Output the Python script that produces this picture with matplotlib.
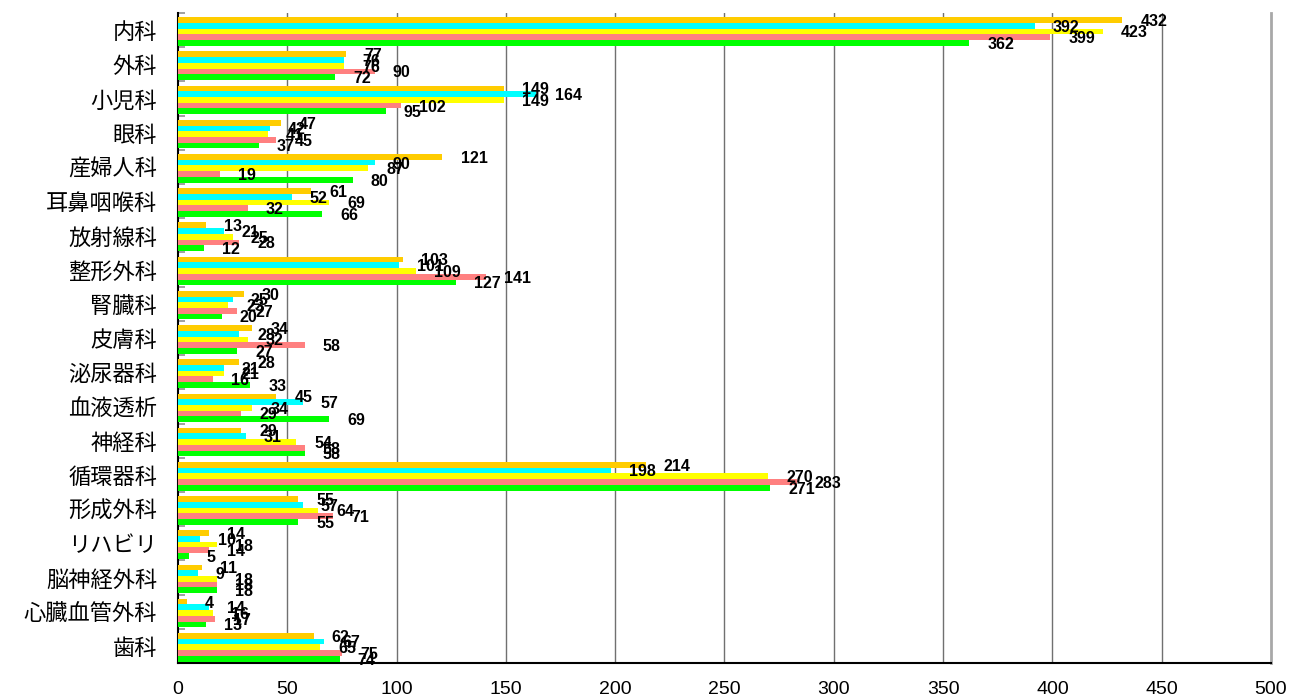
import matplotlib
matplotlib.use("Agg")
import matplotlib.pyplot as plt
import numpy as np

# Departments (top to bottom)
departments = ["内科", "外科", "小児科", "眼科", "産婦人科", "耳鼻咽喉科", "放射線科",
               "整形外科", "腎臓科", "皮膚科", "泌尿器科", "血液透析", "神経科",
               "循環器科", "形成外科", "リハビリ", "脳神経外科", "心臓血管外科", "歯科"]

# Five series per department, drawn top to bottom within each group
series_a = [432, 77, 149, 47, 121, 61, 13, 103, 30, 34, 28, 45, 29, 214, 55, 14, 11, 4, 62]
series_b = [392, 76, 164, 42, 90, 52, 21, 101, 25, 28, 21, 57, 31, 198, 57, 10, 9, 14, 67]
series_c = [423, 76, 149, 41, 87, 69, 25, 109, 23, 32, 21, 34, 54, 270, 64, 18, 18, 16, 65]
series_d = [399, 90, 102, 45, 19, 32, 28, 141, 27, 58, 16, 29, 58, 283, 71, 14, 18, 17, 75]
series_e = [362, 72, 95, 37, 80, 66, 12, 127, 20, 27, 33, 69, 58, 271, 55, 5, 18, 13, 74]

x_ticks = [0, 50, 100, 150, 200, 250, 300, 350, 400, 450, 500]

series = [series_a, series_b, series_c, series_d, series_e]
colors = ["#FFCC00", "#00FFFF", "#FFFF00", "#FF8080", "#00FF00"]

fig = plt.figure(figsize=(13.02, 6.96), dpi=100)
ax = fig.add_axes([0.1367, 0.0474, 0.8395, 0.9339])

n = len(departments)
pos = np.arange(n)
bar_h = 0.167
shift = 0.04

for j, (vals, col) in enumerate(zip(series, colors)):
    y = pos + (j - 2) * bar_h + shift
    ax.barh(y, vals, height=bar_h, color=col, edgecolor="none", zorder=3)
    for yy, v in zip(y, vals):
        ax.annotate(str(v), xy=(v, yy), xytext=(13, -1), textcoords="offset points",
                    ha="left", va="center", fontsize=11.5, fontweight="bold",
                    family="Liberation Sans", color="black", zorder=5)

ax.set_xlim(0, 500)
ax.set_ylim(n - 0.5, -0.5)

ax.set_yticks(pos)
ax.set_yticklabels(departments, family=["Noto Sans CJK JP", "DejaVu Sans"], fontsize=16)
ax.set_yticks(np.arange(-0.5, n, 1.0), minor=True)
ax.tick_params(axis="y", which="major", length=0, pad=15)
ax.tick_params(axis="y", which="minor", direction="in", length=5, color="#909090", width=1.2)

ax.set_xticks(x_ticks)
ax.set_xticklabels([str(t) for t in x_ticks], family="Liberation Sans", fontsize=14)
ax.tick_params(axis="x", length=0, pad=13)

for t in x_ticks[1:-1]:
    ax.axvline(t, color="#707070", lw=1.0, zorder=1)

ax.spines["top"].set_visible(False)
ax.spines["right"].set_color("#A8A8A8")
ax.spines["right"].set_linewidth(2)
ax.spines["left"].set_color("black")
ax.spines["left"].set_linewidth(1.5)
ax.spines["bottom"].set_color("black")
ax.spines["bottom"].set_linewidth(1.5)

fig.savefig("out.png", dpi=100)
